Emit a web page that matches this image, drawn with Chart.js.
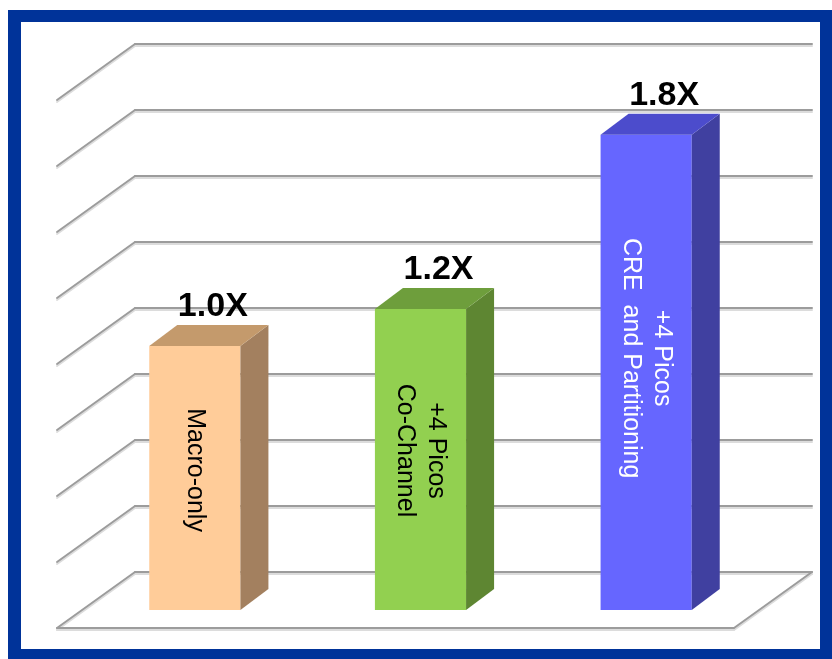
<!DOCTYPE html>
<html>
<head>
<meta charset="utf-8">
<script src="https://cdn.jsdelivr.net/npm/chart.js@4"></script>
<style>
  html, body { margin: 0; padding: 0; background: #fff; }
  #chart_canvas { display: block; }
</style>
</head>
<body>
<canvas id="chart_canvas" width="832" height="659"></canvas>
<script>
// data
const categories = [
    ['Macro-only'],
    ['+4 Picos', 'Co-Channel'],
    ['+4 Picos', 'CRE  and Partitioning']
];
const gains = [1.0, 1.14, 1.8];
const gainLabels = ['1.0X', '1.2X', '1.8X'];
const gridValues = [0, 0.25, 0.5, 0.75, 1, 1.25, 1.5, 1.75, 2];

const frontColors = ['#FFCC99', '#92D050', '#6666FF'];
const sideColors = ['#A3805F', '#5E8632', '#4040A0'];
const topColors = ['#C49A6C', '#6E9E3C', '#4C4CCC'];
const innerTextColors = ['#000000', '#000000', '#FFFFFF'];

const CHART_CANVAS = document.getElementById('chart_canvas');

// perspective offsets (pixels)
const WALL = { dx: 53, dy: -38 };   // back wall, measured from the bar front plane
const FLOOR = { dx: -25, dy: 18 };  // front edge of the floor
const BAR_DEPTH = { dx: 28, dy: -21 };

const framePlugin = {
    id: 'frame',
    beforeDraw(chart) {
        const ctx = chart.ctx;
        ctx.save();
        ctx.fillStyle = '#ffffff';
        ctx.fillRect(0, 0, chart.width, chart.height);
        ctx.fillStyle = '#003399';
        ctx.fillRect(8, 10, chart.width - 8, chart.height - 10);
        ctx.fillStyle = '#ffffff';
        ctx.fillRect(21, 22, 799, 627);
        ctx.restore();
    }
};

const line = (ctx, x1, y1, x2, y2) => {
    ctx.strokeStyle = '#dcdcdc';
    ctx.lineWidth = 2;
    ctx.beginPath();
    ctx.moveTo(x1, y1 + 2);
    ctx.lineTo(x2, y2 + 2);
    ctx.stroke();
    ctx.strokeStyle = '#9c9c9c';
    ctx.lineWidth = 2;
    ctx.beginPath();
    ctx.moveTo(x1, y1);
    ctx.lineTo(x2, y2);
    ctx.stroke();
};

const wallsPlugin = {
    id: 'walls',
    beforeDatasetsDraw(chart) {
        const ctx = chart.ctx;
        const yScale = chart.scales.y;
        const left = chart.chartArea.left;
        const right = chart.chartArea.right;
        ctx.save();
        ctx.lineCap = 'round';
        gridValues.forEach(v => {
            const yf = yScale.getPixelForValue(v);
            const bx = left + WALL.dx, by = yf + WALL.dy;
            line(ctx, bx, by, right + WALL.dx, by);
            line(ctx, bx, by, left + FLOOR.dx, yf + FLOOR.dy);
            if (v === 0) {
                line(ctx, left + FLOOR.dx, yf + FLOOR.dy, right + FLOOR.dx, yf + FLOOR.dy);
                line(ctx, right + FLOOR.dx, yf + FLOOR.dy, right + WALL.dx, by);
            }
        });
        ctx.restore();
    }
};

const bars3dPlugin = {
    id: 'bars3d',
    afterDatasetsDraw(chart) {
        const ctx = chart.ctx;
        const meta = chart.getDatasetMeta(0);
        ctx.save();
        meta.data.forEach((bar, i) => {
            const { x, y, base, width } = bar.getProps(['x', 'y', 'base', 'width'], true);
            const l = x - width / 2, r = x + width / 2;
            const dx = BAR_DEPTH.dx, dy = BAR_DEPTH.dy;
            // side face
            ctx.fillStyle = sideColors[i];
            ctx.beginPath();
            ctx.moveTo(r, y);
            ctx.lineTo(r + dx, y + dy);
            ctx.lineTo(r + dx, base + dy);
            ctx.lineTo(r, base);
            ctx.closePath();
            ctx.fill();
            // top face
            ctx.fillStyle = topColors[i];
            ctx.beginPath();
            ctx.moveTo(l, y);
            ctx.lineTo(l + dx, y + dy);
            ctx.lineTo(r + dx, y + dy);
            ctx.lineTo(r, y);
            ctx.closePath();
            ctx.fill();

            // value label above the bar
            ctx.fillStyle = '#000000';
            ctx.font = "bold 34px 'Liberation Sans', Arial, sans-serif";
            ctx.textAlign = 'center';
            ctx.textBaseline = 'alphabetic';
            ctx.fillText(gainLabels[i], x + dx / 2 + 4, y + dy - 9);

            // category text, rotated inside the bar
            const lines = categories[i];
            const cy = y + (base - y) * 0.47;
            ctx.save();
            ctx.translate(x, cy);
            ctx.rotate(Math.PI / 2);
            ctx.fillStyle = innerTextColors[i];
            ctx.font = "25px 'Liberation Sans', Arial, sans-serif";
            ctx.textAlign = 'center';
            ctx.textBaseline = 'middle';
            const lh = 31;
            lines.forEach((t, k) => {
                ctx.fillText(t, 0, (k - (lines.length - 1) / 2) * lh);
            });
            ctx.restore();
        });
        ctx.restore();
    }
};

const data = {
    labels: categories,
    datasets: [
        {
            label: 'Gain',
            data: gains,
            backgroundColor: frontColors,
            borderWidth: 0,
            categoryPercentage: 1.0,
            barPercentage: 0.404,
        }
    ]
};

const config = {
    type: 'bar',
    data: data,
    options: {
        responsive: false,
        animation: false,
        layout: {
            padding: { left: 82, right: 73, top: 82, bottom: 49 }
        },
        scales: {
            x: { display: false },
            y: { display: false, min: 0, max: 2 }
        },
        plugins: {
            legend: { display: false },
            tooltip: { enabled: false },
            title: { display: false }
        }
    },
    plugins: [framePlugin, wallsPlugin, bars3dPlugin]
};

const myChart = new Chart(CHART_CANVAS, config);
</script>
</body>
</html>
